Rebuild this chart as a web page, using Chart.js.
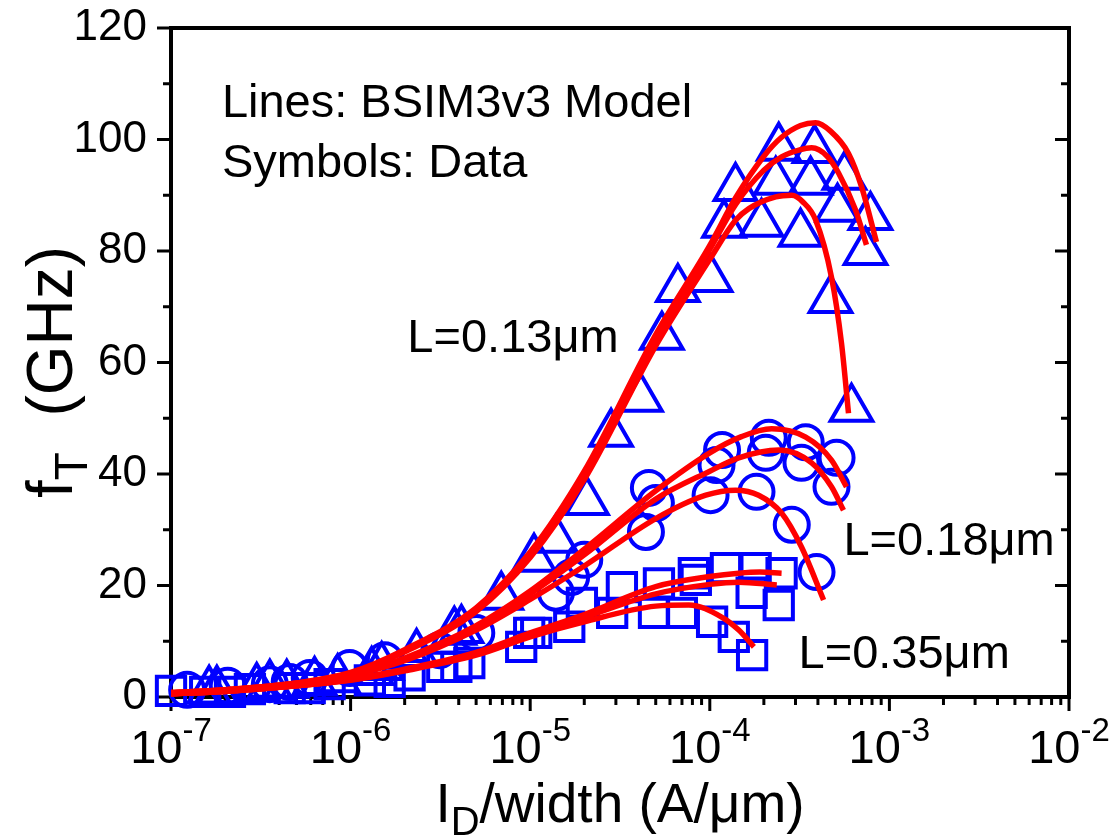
<!DOCTYPE html>
<html>
<head>
<meta charset="utf-8">
<script src="https://cdn.jsdelivr.net/npm/chart.js@4.4.0/dist/chart.umd.min.js"></script>
<style>
  body { margin: 0; background: #fff; }
  #wrap { width: 1113px; height: 837px; }
</style>
</head>
<body>
<div id="wrap"><canvas id="grafico" width="1113" height="837"></canvas></div>
<script>
const FUENTE = '"Liberation Sans", Arial, sans-serif';

// ejes
const xTickExponents = [-7, -6, -5, -4, -3, -2];
const yTickValues = [0, 20, 40, 60, 80, 100, 120];

// datos medidos, L = 0.13 um (triangulos)
const tri1X = [1.80e-7, 4.41e-7, 1.31e-6, 3.78e-6, 1.05e-5, 2.82e-5, 6.64e-5, 1.39e-4, 2.42e-4, 3.83e-4, 5.62e-4, 7.84e-4];
const tri1Y = [1.1, 2.2, 4.5, 11.7, 24.8, 47.2, 73.2, 91.3, 98.5, 98.1, 93.3, 86.1];
const tri2X = [1.63e-7, 3.55e-7, 8.47e-7, 2.33e-6, 6.9e-6, 2.07e-5, 5.41e-5, 1.01e-4, 2.33e-4, 3.64e-4, 5.14e-4, 7.36e-4];
const tri2Y = [1.1, 2.2, 3.2, 7.7, 18.0, 35.0, 64.6, 75.0, 92.4, 92.4, 87.6, 79.8];
const tri3X = [3.0e-7, 6.3e-7, 1.49e-6, 4.14e-6, 1.39e-5, 4.14e-5, 1.20e-4, 1.94e-4, 3.2e-4, 4.70e-4, 6.15e-4];
const tri3Y = [1.6, 2.7, 5.4, 12.0, 28.2, 53.5, 84.7, 84.9, 83.1, 71.2, 51.7];

// datos medidos, L = 0.18 um (circulos)
const cir1X = [1.23e-7, 3.55e-7, 9.87e-7, 5.01e-6, 2.0e-5, 5.01e-5, 1.17e-4, 2.13e-4, 3.42e-4, 5.08e-4];
const cir1Y = [1.3, 2.3, 5.2, 11.5, 24.6, 34.8, 44.3, 46.5, 45.7, 42.9];
const cir2X = [2.07e-7, 5.92e-7, 1.55e-6, 1.39e-5, 4.58e-5, 1.09e-4, 2.05e-4, 3.24e-4, 4.76e-4];
const cir2Y = [2.0, 3.4, 6.6, 18.7, 37.5, 41.6, 43.8, 42.0, 37.7];
const cir3X = [4.58e-7, 3.12e-6, 1.69e-5, 4.41e-5, 1.01e-4, 1.82e-4, 2.86e-4, 3.93e-4];
const cir3Y = [2.7, 8.4, 21.5, 29.6, 36.2, 36.8, 30.9, 22.4];

// datos medidos, L = 0.35 um (cuadrados)
const cua1X = [1.0e-7, 2.75e-7, 7.64e-7, 2.13e-6, 4.58e-6, 1.08e-5, 3.24e-5, 8.15e-5, 1.23e-4, 1.80e-4, 2.51e-4];
const cua1Y = [1.1, 1.4, 2.3, 3.9, 6.1, 11.5, 19.7, 22.2, 23.1, 23.1, 22.2];
const cua2X = [1.55e-7, 4.58e-7, 1.28e-6, 3.24e-6, 8.91e-6, 1.94e-5, 5.21e-5, 8.36e-5, 1.71e-4, 2.42e-4];
const cua2Y = [0.9, 1.6, 3.0, 5.4, 9.0, 16.9, 20.4, 21.0, 18.7, 16.5];
const cua3X = [2.13e-7, 5.92e-7, 1.65e-6, 3.88e-6, 9.87e-6, 1.65e-5, 2.86e-5, 4.89e-5, 6.99e-5, 1.03e-4, 1.36e-4, 1.72e-4];
const cua3Y = [0.9, 1.6, 2.7, 5.4, 11.5, 12.6, 15.1, 15.1, 15.1, 13.5, 10.8, 7.5];

// modelo BSIM3v3 (lineas)
const modTA_X = [1e-7, 2e-7, 5e-7, 1e-6, 2e-6, 5e-6, 1e-5, 2e-5, 5e-5, 1e-4, 1.39e-4, 2.0e-4, 2.51e-4, 3.2e-4, 3.88e-4, 4.7e-4, 5.92e-4, 7.0e-4, 8.47e-4];
const modTA_Y = [0.8, 1.3, 2.5, 4.4, 8.5, 16, 26, 40.5, 65, 81, 89.5, 97, 100.4, 102.5, 103, 101.5, 97.5, 91.5, 81.6];
const modTB_X = [1e-7, 2e-7, 5e-7, 1e-6, 2e-6, 5e-6, 1e-5, 2e-5, 5e-5, 1e-4, 1.39e-4, 2.0e-4, 2.51e-4, 3.2e-4, 3.69e-4, 4.5e-4, 5.21e-4, 6.47e-4, 7.45e-4];
const modTB_Y = [0.8, 1.3, 2.5, 4.3, 8.3, 15.7, 25.6, 40, 64.5, 80.3, 88.3, 94.5, 96.9, 98.2, 98.5, 97, 94, 87.4, 81.1];
const modTC_X = [1e-7, 2e-7, 5e-7, 1e-6, 2e-6, 5e-6, 1e-5, 2e-5, 5e-5, 1e-4, 1.39e-4, 1.65e-4, 2.33e-4, 2.86e-4, 3.3e-4, 3.88e-4, 4.76e-4, 5.41e-4, 5.92e-4];
const modTC_Y = [0.8, 1.3, 2.4, 4.2, 8.1, 15.3, 25, 39, 63, 78.5, 85.5, 87.6, 89.7, 90, 88.8, 85.6, 75.3, 63.5, 50.9];

const modCA_X = [1e-7, 2e-7, 5e-7, 1e-6, 2e-6, 5e-6, 1e-5, 2e-5, 5e-5, 1e-4, 1.5e-4, 2.21e-4, 3.42e-4, 4.76e-4, 5.77e-4];
const modCA_Y = [0.6, 1.1, 2.3, 4.0, 7.0, 12.8, 19, 26.5, 37, 43.8, 46.7, 48.1, 46.6, 42.5, 37.7];
const modCB_X = [1e-7, 2e-7, 5e-7, 1e-6, 2e-6, 5e-6, 1e-5, 2e-5, 5e-5, 1e-4, 1.45e-4, 2.42e-4, 3.69e-4, 4.76e-4, 5.55e-4];
const modCB_Y = [0.6, 1.1, 2.2, 3.9, 6.8, 12.5, 18.5, 25.5, 35.5, 40.5, 42.9, 44.3, 42.0, 37.7, 33.5];
const modCC_X = [1e-7, 2e-7, 5e-7, 1e-6, 2e-6, 5e-6, 1e-5, 2e-5, 5e-5, 9.5e-5, 1.39e-4, 1.87e-4, 2.51e-4, 3.24e-4, 4.3e-4];
const modCC_Y = [0.6, 1.1, 2.2, 3.8, 6.5, 12, 17.5, 23.5, 32, 36.2, 37.1, 36.2, 33.0, 26.9, 17.4];

const modSA_X = [1e-7, 2e-7, 5e-7, 1e-6, 2e-6, 5e-6, 1e-5, 2e-5, 5e-5, 1e-4, 1.45e-4, 1.9e-4, 2.51e-4];
const modSA_Y = [0.6, 1.0, 2.0, 3.2, 5.0, 8.0, 11.5, 14.8, 19.8, 21.6, 22.2, 22.4, 22.2];
const modSB_X = [1e-7, 2e-7, 5e-7, 1e-6, 2e-6, 5e-6, 1e-5, 2e-5, 5e-5, 1e-4, 1.45e-4, 2.36e-4];
const modSB_Y = [0.6, 1.0, 2.0, 3.1, 4.8, 7.8, 11.2, 14.3, 18.5, 20.2, 20.6, 20.1];
const modSC_X = [1e-7, 2e-7, 5e-7, 1e-6, 2e-6, 5e-6, 1e-5, 2e-5, 5e-5, 7.64e-5, 1.17e-4, 1.45e-4, 1.76e-4];
const modSC_Y = [0.6, 1.0, 2.0, 3.0, 4.7, 7.5, 10.8, 13.5, 16.3, 16.5, 14.3, 12.0, 9.0];

// rotulos dentro del grafico
const notas = [
  { texto: "Lines: BSIM3v3 Model", x: 1.92e-7, y: 104 },
  { texto: "Symbols: Data", x: 1.92e-7, y: 93.3 },
  { texto: "L=0.13\u03bcm", x: 2.07e-6, y: 61.9 },
  { texto: "L=0.18\u03bcm", x: 5.55e-4, y: 25.5 },
  { texto: "L=0.35\u03bcm", x: 3.12e-4, y: 5.2 }
];

function puntos(xs, ys) {
  return xs.map((x, i) => ({ x, y: ys[i] }));
}

function serieModelo(xs, ys) {
  return {
    data: puntos(xs, ys),
    showLine: true,
    borderColor: "#ff0000",
    borderWidth: 5.5,
    pointRadius: 0,
    cubicInterpolationMode: "monotone",
    order: 0
  };
}

function serieDatos(xs, ys, estilo, radio) {
  return {
    data: puntos(xs, ys),
    showLine: false,
    pointStyle: estilo,
    pointRadius: radio,
    borderColor: "#0000ff",
    backgroundColor: "rgba(0,0,0,0)",
    pointBorderWidth: 4,
    clip: false,
    order: 1
  };
}

// sin relleno extra de las escalas: el area queda donde dicen padding y afterFit
function sinRelleno(s) {
  s.paddingTop = 0;
  s.paddingBottom = 0;
  s.paddingLeft = 0;
  s.paddingRight = 0;
}

// marco, marcas de los ejes, etiquetas 10^n, titulos y notas
const marcoPlugin = {
  id: "marco",
  beforeDatasetsDraw(chart) {
    const { ctx, chartArea: a, scales } = chart;
    const sx = scales.x, sy = scales.y;
    ctx.save();
    ctx.strokeStyle = "#000";
    ctx.lineCap = "butt";

    ctx.lineWidth = 3;
    for (let v = 0; v <= 120; v += 10) {
      const py = sy.getPixelForValue(v);
      const largo = v % 20 === 0 ? 14 : 8;
      ctx.beginPath();
      ctx.moveTo(a.left - largo, py);
      ctx.lineTo(a.left, py);
      ctx.moveTo(a.right, py);
      ctx.lineTo(a.right - largo, py);
      ctx.stroke();
    }
    for (let e = -7; e <= -3; e++) {
      for (let m = 1; m <= 9; m++) {
        const px = sx.getPixelForValue(m * Math.pow(10, e));
        const largo = m === 1 ? 14 : 8;
        ctx.beginPath();
        ctx.moveTo(px, a.bottom);
        ctx.lineTo(px, a.bottom + largo);
        ctx.stroke();
      }
    }
    const pxFin = sx.getPixelForValue(1e-2);
    ctx.beginPath();
    ctx.moveTo(pxFin, a.bottom);
    ctx.lineTo(pxFin, a.bottom + 14);
    ctx.stroke();

    ctx.lineWidth = 4;
    ctx.strokeRect(a.left, a.top, a.right - a.left, a.bottom - a.top);
    ctx.restore();
  },
  afterDraw(chart) {
    const { ctx, chartArea: a, scales } = chart;
    const sx = scales.x, sy = scales.y;
    ctx.save();
    ctx.fillStyle = "#000";
    ctx.textBaseline = "alphabetic";
    ctx.textAlign = "left";

    // etiquetas del eje x con exponente
    xTickExponents.forEach(e => {
      const px = sx.getPixelForValue(Math.pow(10, e));
      ctx.font = "47px " + FUENTE;
      const w10 = ctx.measureText("10").width;
      ctx.font = "33px " + FUENTE;
      const wExp = ctx.measureText(String(e)).width;
      const x0 = px - (w10 + wExp) / 2;
      ctx.font = "47px " + FUENTE;
      ctx.fillText("10", x0, 763);
      ctx.font = "33px " + FUENTE;
      ctx.fillText(String(e), x0 + w10, 741);
    });

    // titulo eje x: I_D/width (A/um)
    const partesX = [
      { t: "I", f: 55, dy: 0 },
      { t: "D", f: 40, dy: 13 },
      { t: "/width (A/\u03bcm)", f: 55, dy: 0 }
    ];
    let total = 0;
    partesX.forEach(p => { ctx.font = p.f + "px " + FUENTE; p.w = ctx.measureText(p.t).width; total += p.w; });
    let cx = (a.left + a.right) / 2 - total / 2;
    partesX.forEach(p => {
      ctx.font = p.f + "px " + FUENTE;
      ctx.fillText(p.t, cx, 822 + p.dy);
      cx += p.w;
    });

    // titulo eje y: f_T (GHz)
    const partesY = [
      { t: "f", f: 64, dy: 0 },
      { t: "T", f: 46, dy: 15 },
      { t: "  (GHz)", f: 64, dy: 0 }
    ];
    total = 0;
    partesY.forEach(p => { ctx.font = p.f + "px " + FUENTE; p.w = ctx.measureText(p.t).width; total += p.w; });
    ctx.translate(72, 372);
    ctx.rotate(-Math.PI / 2);
    cx = -total / 2;
    partesY.forEach(p => {
      ctx.font = p.f + "px " + FUENTE;
      ctx.fillText(p.t, cx, p.dy);
      cx += p.w;
    });
    ctx.setTransform(1, 0, 0, 1, 0, 0);

    // notas
    ctx.font = "47px " + FUENTE;
    notas.forEach(n => {
      ctx.fillText(n.texto, sx.getPixelForValue(n.x), sy.getPixelForValue(n.y));
    });
    ctx.restore();
  }
};

new Chart(document.getElementById("grafico"), {
  type: "scatter",
  data: {
    datasets: [
      serieModelo(modTA_X, modTA_Y),
      serieModelo(modTB_X, modTB_Y),
      serieModelo(modTC_X, modTC_Y),
      serieModelo(modCA_X, modCA_Y),
      serieModelo(modCB_X, modCB_Y),
      serieModelo(modCC_X, modCC_Y),
      serieModelo(modSA_X, modSA_Y),
      serieModelo(modSB_X, modSB_Y),
      serieModelo(modSC_X, modSC_Y),
      serieDatos(tri1X, tri1Y, "triangle", 24),
      serieDatos(tri2X, tri2Y, "triangle", 24),
      serieDatos(tri3X, tri3Y, "triangle", 24),
      serieDatos(cir1X, cir1Y, "circle", 17),
      serieDatos(cir2X, cir2Y, "circle", 17),
      serieDatos(cir3X, cir3Y, "circle", 17),
      serieDatos(cua1X, cua1Y, "rect", 20),
      serieDatos(cua2X, cua2Y, "rect", 20),
      serieDatos(cua3X, cua3Y, "rect", 20)
    ]
  },
  options: {
    responsive: false,
    animation: false,
    devicePixelRatio: 1,
    layout: { padding: { top: 28, right: 44, left: 0, bottom: 0 } },
    plugins: {
      legend: { display: false },
      tooltip: { enabled: false }
    },
    scales: {
      x: {
        type: "logarithmic",
        min: 1e-7,
        max: 1e-2,
        grid: { display: false, drawTicks: false },
        border: { display: false },
        ticks: { display: false },
        afterFit(s) { s.height = 140; sinRelleno(s); }
      },
      y: {
        min: 0,
        max: 120,
        afterBuildTicks(s) { s.ticks = yTickValues.map(v => ({ value: v })); },
        grid: { display: false, drawTicks: false },
        border: { display: false },
        ticks: {
          color: "#000",
          padding: 24,
          font: { family: FUENTE, size: 44, lineHeight: 1 }
        },
        afterFit(s) { s.width = 171; sinRelleno(s); }
      }
    }
  },
  plugins: [marcoPlugin]
});
</script>
</body>
</html>
